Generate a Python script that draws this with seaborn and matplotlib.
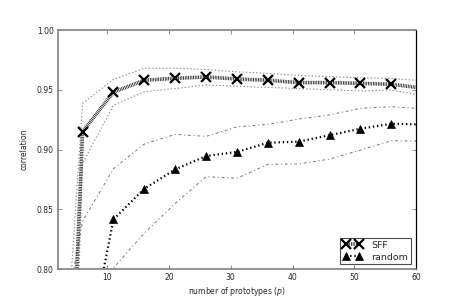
import matplotlib
matplotlib.use('Agg')
import matplotlib.pyplot as plt
import seaborn as sns
import pandas as pd

# number of prototypes
prototypes = [1, 6, 11, 16, 21, 26, 31, 36, 41, 46, 51, 56, 61]

# SFF: mean correlation and its upper / lower band
sff_mean = [0.300, 0.915, 0.948, 0.958, 0.9596, 0.9607, 0.959, 0.958, 0.956, 0.956, 0.9554, 0.9546, 0.9514]
sff_upper = [0.550, 0.9386, 0.9587, 0.968, 0.968, 0.967, 0.965, 0.9637, 0.962, 0.961, 0.960, 0.9595, 0.9576]
sff_lower = [0.100, 0.8885, 0.937, 0.9484, 0.951, 0.954, 0.953, 0.952, 0.951, 0.950, 0.949, 0.9498, 0.9453]

# random selection: mean correlation and its upper / lower band
rnd_mean = [0.500, 0.710, 0.8416, 0.8672, 0.8834, 0.8946, 0.898, 0.9057, 0.9066, 0.912, 0.9174, 0.9216, 0.9209]
rnd_upper = [0.700, 0.840, 0.884, 0.9046, 0.9127, 0.911, 0.919, 0.921, 0.9255, 0.929, 0.9345, 0.9358, 0.9342]
rnd_lower = [0.400, 0.650, 0.801, 0.830, 0.855, 0.8773, 0.876, 0.8876, 0.888, 0.892, 0.8996, 0.9074, 0.907]

x_ticks = [10, 20, 30, 40, 50, 60]
y_ticks = [0.80, 0.85, 0.90, 0.95, 1.00]

df = pd.DataFrame({
    'p': prototypes,
    'sff_mean': sff_mean, 'sff_upper': sff_upper, 'sff_lower': sff_lower,
    'rnd_mean': rnd_mean, 'rnd_upper': rnd_upper, 'rnd_lower': rnd_lower,
})

sns.set_style('ticks')
plt.rcParams['font.family'] = ['DejaVu Sans']
plt.rcParams['lines.scale_dashes'] = False

fig, ax = plt.subplots(figsize=(4.63, 3.0), dpi=100)
fig.subplots_adjust(left=0.125, right=0.8985, bottom=0.103, top=0.9)

# bands
for col in ['sff_upper', 'sff_lower']:
    sns.lineplot(data=df, x='p', y=col, ax=ax, color='0.55', linestyle=(0, (1, 1.5)), linewidth=0.8)
for col in ['rnd_upper', 'rnd_lower']:
    sns.lineplot(data=df, x='p', y=col, ax=ax, color='0.45', linestyle=(0, (2, 2, 0.8, 2)),
                 linewidth=0.7)

# means
sns.lineplot(data=df, x='p', y='sff_mean', ax=ax, color='0.15', linestyle=(0, (0.6, 0.6)),
             linewidth=2.6, marker='x', markersize=7, markeredgewidth=1.6,
             markeredgecolor='k', label='SFF')
sns.lineplot(data=df, x='p', y='rnd_mean', ax=ax, color='k', linestyle=(0, (1, 2)),
             linewidth=1.6, marker='^', markersize=5.5, markeredgewidth=0.5,
             markeredgecolor='k', markerfacecolor='k', label='random')

ax.set_xlim(2, 60)
ax.set_ylim(0.80, 1.00)
ax.set_xticks(x_ticks)
ax.set_yticks(y_ticks)
ax.set_yticklabels([f'{v:.2f}' for v in y_ticks])
ax.tick_params(direction='in', top=True, right=True, length=3, width=0.6,
               color='0.5', labelsize=5.5, pad=3)

ax.set_xlabel('number of prototypes ($p$)', fontsize=5.5, labelpad=2)
ax.set_ylabel('correlation', fontsize=5.5, labelpad=6)

for side in ['left', 'top', 'bottom']:
    ax.spines[side].set_color('0.5')
    ax.spines[side].set_linewidth(1.2)
ax.spines['right'].set_color('k')
ax.spines['right'].set_linewidth(0.9)

leg = ax.legend(loc='lower right', numpoints=2, fontsize=6.8, handlelength=2.0,
                handletextpad=1.0, borderpad=0.3, labelspacing=0.3, fancybox=False,
                framealpha=1, borderaxespad=0.5)
leg.get_frame().set_edgecolor('0.3')
leg.get_frame().set_linewidth(0.8)

fig.savefig('out.png', dpi=100)
